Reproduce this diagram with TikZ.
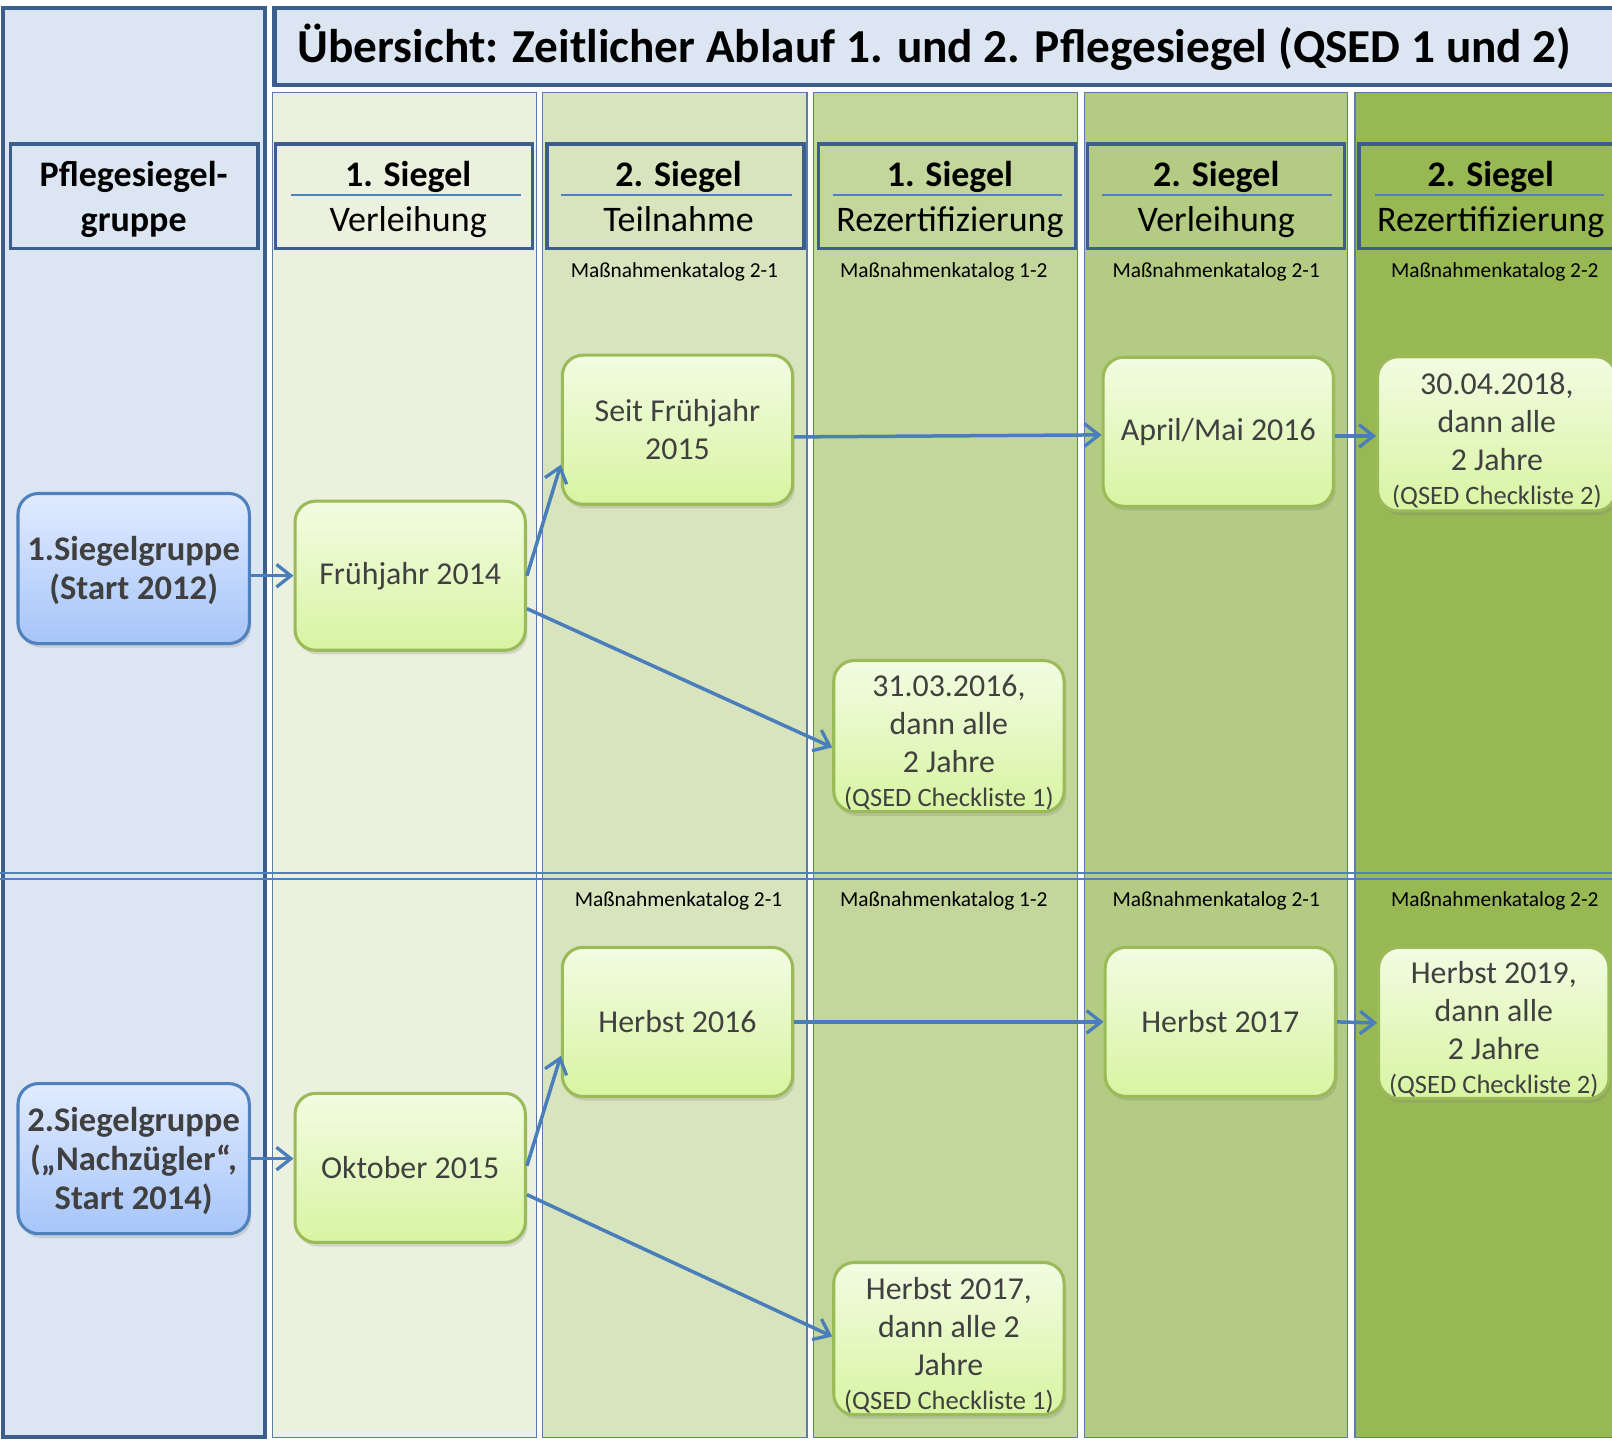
\documentclass[tikz,border=0pt]{standalone}
\usepackage{fontspec}
\setmainfont{Carlito}
\usetikzlibrary{arrows.meta,shadows}
\definecolor{panelfill}{HTML}{DCE6F2}
\definecolor{paneldraw}{HTML}{3B5E8C}
\definecolor{cA}{HTML}{EBF1DE}
\definecolor{cB}{HTML}{D7E4BD}
\definecolor{cC}{HTML}{C3D69B}
\definecolor{cD}{HTML}{B3CB82}
\definecolor{cE}{HTML}{97B853}
\definecolor{colline}{HTML}{5B7BAB}
\definecolor{arrowblue}{HTML}{4A7EBB}
\definecolor{greenline}{HTML}{9BBB59}
\definecolor{boxtext}{HTML}{404040}
\definecolor{gtop}{HTML}{F2FCE2}
\definecolor{gbot}{HTML}{D8F4A2}
\definecolor{btop}{HTML}{E1EBFF}
\definecolor{bbot}{HTML}{A6C5F9}
\definecolor{bline}{HTML}{4F81BD}
\begin{document}
\begin{tikzpicture}[x=0.5pt,y=-0.5pt,
  colrect/.style={draw=colline,line width=0.6pt},
  hdrbox/.style={draw=paneldraw,line width=1.6pt},
  hdrtop/.style={font=\fontsize{17.5}{21}\selectfont\bfseries,inner sep=0pt,anchor=base},
  hdrbot/.style={font=\fontsize{17.5}{21}\selectfont,inner sep=0pt,anchor=base},
  katalog/.style={font=\fontsize{10.4}{12}\selectfont,inner sep=0pt,anchor=base},
  greenbox/.style={draw=greenline,line width=1.5pt,rounded corners=10pt,
    top color=gtop,bottom color=gbot,minimum width=112pt,minimum height=72.5pt,
    inner sep=0pt,align=center,text=boxtext,font=\fontsize{15.5}{18.5}\selectfont,
    drop shadow={shadow xshift=1pt,shadow yshift=-2pt,opacity=0.25}},
  bluebox/.style={draw=bline,line width=1.5pt,rounded corners=10pt,
    top color=btop,bottom color=bbot,minimum width=112.5pt,minimum height=73pt,
    inner sep=0pt,align=center,text=boxtext,font=\fontsize{16.8}{19}\selectfont\bfseries,
    drop shadow={shadow xshift=1pt,shadow yshift=-2pt,opacity=0.25}},
  conn/.style={draw=arrowblue,line width=1.7pt,
    -{Straight Barb[length=7pt,width=11pt,line width=1.6pt]}},
]
\clip (0,0) rectangle (1568,1401);
\fill[white] (0,0) rectangle (1568,1401);
% columns
\draw[colrect,fill=cA] (265,90) rectangle (522,1398);
\draw[colrect,fill=cB] (528,90) rectangle (785,1398);
\draw[colrect,fill=cC] (791,90) rectangle (1048,1398);
\draw[colrect,fill=cD] (1055,90) rectangle (1311,1398);
\draw[colrect,fill=cE] (1318,90) rectangle (1600,1398);
% left panel
\draw[fill=panelfill,draw=paneldraw,line width=2pt] (3,8) rectangle (258,1398);
% divider
\draw[bline,line width=1.2pt] (0,849) -- (1600,849);
\draw[bline,line width=1.2pt] (0,855) -- (1600,855);
% title
\draw[hdrbox,fill=panelfill,line width=2pt] (267,8) rectangle (1600,83);
\node[inner sep=0pt,anchor=base,font=\fontsize{23}{27}\selectfont\bfseries] (title) at (909,61)
  {Übersicht: Zeitlicher Ablauf 1. und 2. Pflegesiegel (QSED 1 und 2)};
% header boxes
\draw[hdrbox] (10,140) rectangle (251,242);
\draw[hdrbox] (268,140) rectangle (518,242);
\draw[hdrbox] (532,140) rectangle (782,242);
\draw[hdrbox] (796,140) rectangle (1046,242);
\draw[hdrbox] (1058,140) rectangle (1308,242);
\draw[hdrbox] (1322,140) rectangle (1600,242);
\foreach \a/\b in {283/507,546/770,810/1033,1072/1296,1337/1560}
  \draw[bline,line width=1pt] (\a,190) -- (\b,190);
\node[hdrtop] (h0a) at (130,181) {Pflegesiegel-};
\node[hdrtop] (h0b) at (130,225) {gruppe};
\node[hdrtop] (h1a) at (397,181) {1. Siegel};
\node[hdrbot] (h1b) at (397,225) {Verleihung};
\node[hdrtop] (h2a) at (660,181) {2. Siegel};
\node[hdrbot] (h2b) at (660,225) {Teilnahme};
\node[hdrtop] (h3a) at (924,181) {1. Siegel};
\node[hdrbot] (h3b) at (924,225) {Rezertifizierung};
\node[hdrtop] (h4a) at (1183,181) {2. Siegel};
\node[hdrbot] (h4b) at (1183,225) {Verleihung};
\node[hdrtop] (h5a) at (1450,181) {2. Siegel};
\node[hdrbot] (h5b) at (1450,225) {Rezertifizierung};
% katalog labels
\node[katalog] (k2a) at (656,270) {Maßnahmenkatalog 2-1};
\node[katalog] (k3a) at (918,270) {Maßnahmenkatalog 1-2};
\node[katalog] (k4a) at (1183,270) {Maßnahmenkatalog 2-1};
\node[katalog] (k5a) at (1454,270) {Maßnahmenkatalog 2-2};
\node[katalog] (k2b) at (660,882) {Maßnahmenkatalog 2-1};
\node[katalog] (k3b) at (918,882) {Maßnahmenkatalog 1-2};
\node[katalog] (k4b) at (1183,882) {Maßnahmenkatalog 2-1};
\node[katalog] (k5b) at (1454,882) {Maßnahmenkatalog 2-2};
% group boxes
\node[bluebox] (g1) at (130,553) {\rule{0pt}{14pt}1.Siegelgruppe\\(Start 2012)};
\node[bluebox] (g2) at (130,1127) {\rule{0pt}{14pt}2.Siegelgruppe\\(„Nachzügler“,\\Start 2014)};
% green boxes, group 1
\node[greenbox] (b1) at (399,560) {Frühjahr 2014};
\node[greenbox] (b2) at (659,418) {Seit Frühjahr\\2015};
\node[greenbox,minimum height=73.5pt] (b3) at (923,716) {\rule{0pt}{17pt}31.03.2016,\\dann alle\\2 Jahre\\[-2pt]{\fontsize{12.9}{15}\selectfont(QSED Checkliste 1)}};
\node[greenbox] (b4) at (1185,420) {April/Mai 2016};
\node[greenbox,minimum width=116pt,minimum height=75pt] (b5) at (1456,422) {\rule{0pt}{17pt}30.04.2018,\\dann alle\\2 Jahre\\[-2pt]{\fontsize{12.9}{15}\selectfont(QSED Checkliste 2)}};
% green boxes, group 2
\node[greenbox] (c1) at (399,1136) {Oktober 2015};
\node[greenbox] (c2) at (659,994) {Herbst 2016};
\node[greenbox,minimum height=74pt] (c3) at (923,1302) {\rule{0pt}{17pt}Herbst 2017,\\dann alle 2\\Jahre\\[-2pt]{\fontsize{12.9}{15}\selectfont(QSED Checkliste 1)}};
\node[greenbox] (c4) at (1187,994) {Herbst 2017};
\node[greenbox,minimum height=73.5pt] (c5) at (1453,995) {\rule{0pt}{17pt}Herbst 2019,\\dann alle\\2 Jahre\\[-2pt]{\fontsize{12.9}{15}\selectfont(QSED Checkliste 2)}};
% connectors
\draw[conn] ([yshift=-3.5pt]g1.east) -- (b1.west);
\draw[conn] (b1.east) -- ([yshift=-17pt]b2.west);
\draw[conn] ([yshift=-16pt]b1.east) -- ([yshift=-5.5pt]b3.west);
\draw[conn] ([yshift=-3.5pt]b2.east) -- ([yshift=-1.5pt]b4.west);
\draw[conn] ([yshift=-2pt]b4.east) -- ([yshift=-1pt]b5.west);
\draw[conn] (g2.east) -- ([yshift=4.5pt]c1.west);
\draw[conn] ([yshift=1pt]c1.east) -- ([yshift=-16.5pt]c2.west);
\draw[conn] ([yshift=-13pt]c1.east) -- ([yshift=1pt]c3.west);
\draw[conn] (c2.east) -- (c4.west);
\draw[conn] (c4.east) -- (c5.west);
\end{tikzpicture}
\end{document}
